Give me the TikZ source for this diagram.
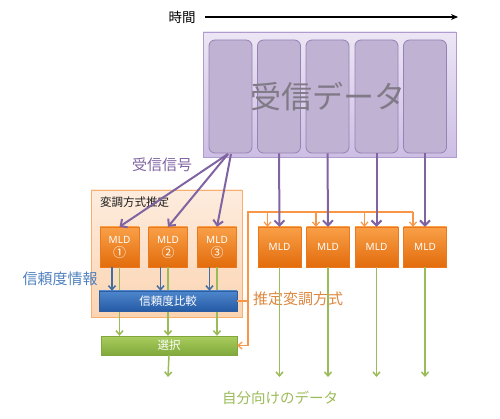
\documentclass[tikz,border=0pt]{standalone}
\usepackage{fontspec}
\setmainfont{Noto Sans CJK JP}
\newfontfamily\latinfont{Noto Sans}
\newfontfamily\cjkfont{Noto Sans CJK JP}
\usetikzlibrary{arrows.meta,calc}
\definecolor{purp}{HTML}{8064A2}
\definecolor{orng}{HTML}{F79646}
\definecolor{blu}{HTML}{4F81BD}
\definecolor{grn}{HTML}{9BBB59}
\tikzset{
  fs/.style={font=\fontsize{#1}{#1}\selectfont},
  colbox/.style={draw={rgb,255:red,150;green,130;blue,180}, line width=0.8pt, fill={rgb,255:red,192;green,178;blue,210}, rounded corners=6pt, minimum width=43pt, minimum height=113pt},
  mldbox/.style={draw={rgb,255:red,236;green,120;blue,30}, line width=0.4pt, top color={rgb,255:red,249;green,160;blue,72}, bottom color={rgb,255:red,226;green,108;blue,12}, text=white, align=center, minimum height=40pt, inner sep=0pt, font=\latinfont\fontsize{10}{14}\selectfont},
  parr/.style={draw=purp, line width=2pt, -{Straight Barb[length=5pt,width=10pt]}},
  oline/.style={draw=orng, line width=1.2pt},
  oarr/.style={oline, -{Straight Barb[length=4pt,width=7pt]}},
  garr/.style={draw=grn, line width=1.5pt, -{Straight Barb[length=4pt,width=7pt]}},
  barr/.style={draw=blu!85!black, line width=1.5pt, -{Straight Barb[length=4pt,width=7pt]}},
}
\begin{document}
\begin{tikzpicture}[x=1pt,y=-1pt]
\useasboundingbox (0,0) rectangle (500,419);
% time axis
\node[fs=13.5, inner sep=0pt] (tlbl) at (182,17) {時間};
\coordinate (ts) at (205,17);
\coordinate (te) at (458,17);
\draw[line width=1.3pt, -{Stealth[length=7pt,width=6pt]}] (ts) -- (te);
% received data
\node[draw={rgb,255:red,175;green,155;blue,205}, line width=0.8pt, top color={rgb,255:red,236;green,230;blue,245}, bottom color={rgb,255:red,205;green,190;blue,228}, minimum width=253pt, minimum height=125pt, inner sep=0pt] (recv) at (329.5,94.5) {};
\node[colbox] (c1) at (230.5,96.5) {};
\node[colbox] (c2) at (279,96.5) {};
\node[colbox] (c3) at (327.5,96.5) {};
\node[colbox] (c4) at (376.5,96.5) {};
\node[colbox] (c5) at (425,96.5) {};
\node[fs=31, text={rgb,255:red,128;green,122;blue,135}, inner sep=0pt] (rtxt) at (328,97) {受信データ};
\node[fs=15, text=purp, inner sep=0pt] (rsig) at (162,165) {受信信号};
% estimation panel
\node[draw={rgb,255:red,248;green,175;blue,110}, line width=0.8pt, top color={rgb,255:red,253;green,236;blue,222}, bottom color={rgb,255:red,251;green,212;blue,178}, minimum width=151pt, minimum height=127pt, inner sep=0pt] (panel) at (166.5,253.5) {};
\node[fs=11.5, anchor=west, inner sep=0pt, text={rgb,255:red,30;green,30;blue,30}] (plbl) at (100,202) {変調方式推定};
% MLDs
\node[mldbox, minimum width=39pt] (m1) at (119.5,247) {MLD\\{\cjkfont\fontsize{13}{14}\selectfont ①}};
\node[mldbox, minimum width=39pt] (m2) at (168,247) {MLD\\{\cjkfont\fontsize{13}{14}\selectfont ②}};
\node[mldbox, minimum width=39pt] (m3) at (217,247) {MLD\\{\cjkfont\fontsize{13}{14}\selectfont ③}};
\node[mldbox, minimum width=43pt] (r1) at (279.5,247) {MLD};
\node[mldbox, minimum width=43pt] (r2) at (328,247) {MLD};
\node[mldbox, minimum width=43pt] (r3) at (376.5,247) {MLD};
\node[mldbox, minimum width=43pt] (r4) at (425,247) {MLD};
% select box
\node[draw={rgb,255:red,130;green,165;blue,60}, line width=0.4pt, top color={rgb,255:red,170;green,205;blue,95}, bottom color={rgb,255:red,128;green,168;blue,58}, text=white, fs=11.5, minimum width=136pt, minimum height=19pt, inner sep=0pt] (sel) at (169,345.5) {選択};
% green lines through comparison
\draw[garr] (m1.south) -- (m1.south |- sel.north);
\draw[garr] (m2.south) -- (m2.south |- sel.north);
\draw[garr] (m3.south) -- (m3.south |- sel.north);
% comparison box
\node[draw={rgb,255:red,45;green,95;blue,160}, line width=0.4pt, top color={rgb,255:red,78;green,135;blue,205}, bottom color={rgb,255:red,38;green,90;blue,165}, text=white, fs=11.5, minimum width=138pt, minimum height=20pt, inner sep=0pt] (cmp) at (168,301) {信頼度比較};
\draw[barr] ([xshift=-7.5pt]m1.south) -- ([xshift=-7.5pt]m1.south |- cmp.north);
\draw[barr] ([xshift=-7.5pt]m2.south) -- ([xshift=-7.5pt]m2.south |- cmp.north);
\draw[barr] ([xshift=-7.5pt]m3.south) -- ([xshift=-7.5pt]m3.south |- cmp.north);
\node[fs=15, text=blu, inner sep=0pt] (rel) at (60,279) {信頼度情報};
% purple arrows
\coordinate (pa) at (228,154);
\coordinate (pb) at (231,154);
\draw[parr] (pa) -- (m1.north);
\draw[parr] (pa) -- (m2.north);
\draw[parr] (pb) -- (m3.north);
% orange distribution
\coordinate (otl) at (248,212);
\coordinate (otr) at (413,212);
\coordinate (obl) at (248,345.5);
\draw[oline] (otr) -- (otl) -- (obl);
\draw[oarr] (obl) -- (sel.east);
\draw[oline] (cmp.east) -- (cmp.east -| otl);
\node[fs=15, text=orng!90!black, anchor=west, inner sep=0pt] (est) at (253,299) {推定変調方式};
\draw[oarr] ([xshift=-12pt]r1.north |- otl) -- ([xshift=-12pt]r1.north);
\draw[oarr] ([xshift=-12pt]r2.north |- otl) -- ([xshift=-12pt]r2.north);
\draw[oarr] ([xshift=-12pt]r3.north |- otl) -- ([xshift=-12pt]r3.north);
\draw[oarr] ([xshift=-12pt]r4.north |- otl) -- ([xshift=-12pt]r4.north);
\draw[parr] (c2.south) -- (r1.north);
\draw[parr] (c3.south) -- (r2.north);
\draw[parr] (c4.south) -- (r3.north);
\draw[parr] (c5.south) -- (r4.north);
% outputs
\coordinate (gend) at (168,377);
\draw[garr] (sel.south) -- (gend);
\draw[garr] (r1.south) -- (r1.south |- gend);
\draw[garr] (r2.south) -- (r2.south |- gend);
\draw[garr] (r3.south) -- (r3.south |- gend);
\draw[garr] (r4.south) -- (r4.south |- gend);
\node[fs=14.5, text=grn, inner sep=0pt] (own) at (280,398) {自分向けのデータ};
\end{tikzpicture}
\end{document}
